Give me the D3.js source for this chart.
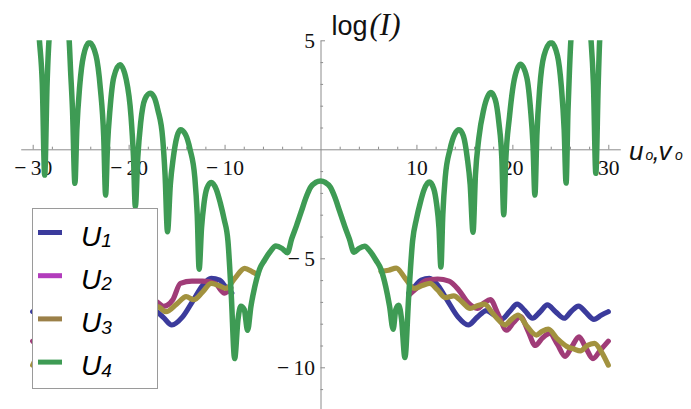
<!DOCTYPE html>
<html>
<head>
<meta charset="utf-8">
<script src="https://cdn.jsdelivr.net/npm/d3@7"></script>
<style>
  html, body { margin: 0; padding: 0; background: #fff; }
  svg { display: block; }
</style>
</head>
<body>
<svg id="chart" width="691" height="409"></svg>
<script>
// ---- tick labels ----
const xMajorTicks = [-30, -20, -10, 10, 20, 30];
const xMajorLabels = ["\u2212\u200930", "\u2212\u200920", "\u2212\u200910", "10", "20", "30"];
const yMajorTicks = [5, -5, -10];
const yMajorLabels = ["5", "\u2212\u20095", "\u2212\u200910"];

// ---- series: [u, log(I)] ----
const seriesNames = ["U1", "U2", "U3", "U4"];
const seriesSubs = ["1", "2", "3", "4"];
const lineColors = ["#3b3b9c", "#a03c78", "#a2923f", "#3e9b54"];
const legendColors = ["#3b3b9c", "#b23cbc", "#9b8048", "#3e9b54"];

// U4 (full curve, coincides with U1..U3 in the central lobe)
const u4 = [
  [-30, 8.2], [-29.6, 6.8], [-29.3, 5.0], [-29.0, 3.0], [-28.75, -1.18], [-28.5, 3.0], [-28.3, 5.0],
  [-27.9, 6.3], [-27.25, 7.2], [-26.6, 6.3], [-26.2, 5.0], [-26.05, 3.6], [-25.85, 1.8], [-25.6, -1.56],
  [-25.4, 0.9], [-25.1, 2.9], [-24.7, 4.3], [-24.1, 4.9], [-23.4, 4.3], [-22.95, 2.8], [-22.6, 0.6],
  [-22.4, -2.1], [-22.2, 0.2], [-21.95, 1.8], [-21.55, 3.3], [-20.9, 3.88], [-20.25, 3.2], [-19.75, 1.5],
  [-19.5, -0.3], [-19.3, -2.63], [-19.05, -0.4], [-18.75, 1.2], [-18.3, 2.3], [-17.75, 2.57], [-17.35, 2.4],
  [-16.95, 1.8], [-16.45, 0.5], [-16.2, -1.2], [-15.95, -3.78], [-15.65, -1.6], [-15.35, -0.4], [-14.95, 0.6],
  [-14.6, 0.9], [-14.1, 0.7], [-13.6, 0.0], [-13.1, -1.3], [-12.85, -3.0], [-12.65, -5.5], [-12.4, -3.6],
  [-12.15, -2.5], [-11.85, -1.8], [-11.4, -1.52], [-10.85, -1.85], [-10.45, -2.45], [-10.05, -3.2],
  [-9.65, -4.2], [-9.3, -6.7], [-8.95, -9.6], [-8.6, -7.8], [-8.3, -7.2], [-7.95, -7.35], [-7.6, -8.3],
  [-7.25, -7.2], [-6.85, -6.3], [-6.35, -5.5], [-5.85, -5.1], [-5.25, -4.7], [-4.65, -4.44], [-4.0, -4.55],
  [-3.45, -4.74], [-3.0, -4.1], [-2.5, -3.5], [-2.0, -2.85], [-1.5, -2.2], [-1.0, -1.72], [-0.5, -1.52],
  [0, -1.45], [0.5, -1.52], [1.0, -1.72], [1.5, -2.2], [2.0, -2.85], [2.5, -3.5], [3.0, -4.1], [3.5, -4.72],
  [4.0, -4.55], [4.6, -4.45], [5.2, -4.7], [5.8, -5.1], [6.3, -5.5], [6.8, -6.3], [7.2, -7.2], [7.57, -8.25],
  [7.85, -7.35], [8.15, -7.15], [8.45, -7.8], [8.8, -9.55], [9.2, -6.7], [9.6, -4.2], [10.0, -3.2],
  [10.4, -2.45], [10.8, -1.85], [11.35, -1.5], [11.8, -1.8], [12.1, -2.5], [12.35, -3.6], [12.55, -5.4],
  [12.75, -3.0], [13.0, -1.3], [13.5, 0.0], [14.0, 0.7], [14.45, 0.9], [14.9, 0.6], [15.3, -0.4],
  [15.6, -1.6], [15.9, -3.8], [16.15, -1.2], [16.5, 0.5], [17.0, 1.8], [17.4, 2.4], [17.75, 2.6],
  [18.2, 2.3], [18.6, 1.2], [18.9, -0.4], [19.1, -3.0], [19.3, -0.6], [19.7, 1.5], [20.2, 3.2],
  [20.85, 3.9], [21.5, 3.3], [21.9, 1.8], [22.15, 0.2], [22.35, -2.1], [22.55, 0.6], [22.85, 2.8],
  [23.3, 4.3], [24.05, 4.9], [24.7, 4.3], [25.1, 2.9], [25.4, 0.9], [25.6, -1.55], [25.8, 1.8],
  [25.95, 3.6], [26.1, 5.0], [26.5, 6.3], [27.2, 7.2], [27.8, 6.3], [28.2, 5.0], [28.45, 3.0],
  [28.7, -1.1], [28.95, 3.0], [29.1, 5.0], [29.5, 6.8], [30, 8.2]
];

// U1, U2, U3: outer wings (inner ends meet U4)
const u1Left = [
  [-30, -7.45], [-29.3, -7.6], [-28.5, -7.8], [-27.7, -7.5], [-26.9, -7.19], [-26.1, -7.45], [-25.4, -7.75],
  [-24.5, -7.45], [-23.65, -7.14], [-22.9, -7.45], [-22.1, -7.75], [-21.3, -7.4], [-20.5, -7.1],
  [-19.7, -7.45], [-18.9, -7.78], [-18.1, -7.6], [-17.35, -7.4], [-16.4, -7.7], [-15.5, -8.06],
  [-14.4, -7.7], [-13.3, -6.95], [-12.3, -6.25], [-11.4, -5.92], [-10.5, -6.0], [-9.85, -6.35], [-9.25, -6.6]
];
const u1Right = [
  [9.2, -6.6], [9.8, -6.3], [10.5, -6.0], [11.35, -5.92], [12.25, -6.25], [13.25, -6.95], [14.35, -7.7],
  [15.4, -8.06], [16.35, -7.7], [17.3, -7.4], [18.1, -7.6], [18.9, -7.78], [19.7, -7.45], [20.5, -7.1],
  [21.3, -7.4], [22.1, -7.75], [22.9, -7.45], [23.65, -7.14], [24.5, -7.45], [25.4, -7.75], [26.1, -7.45],
  [26.9, -7.19], [27.7, -7.5], [28.5, -7.8], [29.3, -7.6], [30, -7.45]
];
const u2Left = [
  [-30, -8.8], [-29.2, -9.2], [-28.4, -9.6], [-27.65, -9.1], [-26.95, -8.6], [-26.2, -9.05], [-25.5, -9.5],
  [-24.7, -8.95], [-23.9, -8.44], [-23.15, -8.65], [-22.4, -9.0], [-21.6, -8.3], [-20.85, -7.68],
  [-20.1, -7.95], [-19.4, -8.3], [-18.5, -7.55], [-17.7, -6.9], [-17.05, -7.0], [-16.35, -7.2],
  [-15.4, -6.9], [-14.6, -6.15], [-13.4, -6.05], [-12.3, -6.05], [-11.0, -6.15], [-10.0, -6.6], [-9.35, -6.35]
];
const u2Right = [
  [9.2, -6.7], [9.55, -6.55], [10.2, -6.3], [11.0, -6.02], [12.2, -5.95], [13.4, -6.05], [14.4, -6.45],
  [15.4, -7.05], [16.35, -7.3], [17.05, -7.05], [17.7, -6.9], [18.5, -7.55], [19.4, -8.3], [20.1, -7.95],
  [20.85, -7.68], [21.6, -8.3], [22.4, -9.0], [23.15, -8.65], [23.9, -8.44], [24.7, -8.95], [25.5, -9.5],
  [26.2, -9.05], [26.95, -8.6], [27.65, -9.1], [28.4, -9.6], [29.2, -9.2], [30, -8.8]
];
const u3Left = [
  [-30, -9.9], [-29.3, -9.3], [-28.55, -8.9], [-27.8, -9.0], [-27.1, -9.25], [-26.35, -9.15], [-25.7, -9.05],
  [-24.7, -8.7], [-23.75, -8.25], [-23.1, -8.35], [-22.5, -8.52], [-21.5, -8.1], [-20.6, -7.6],
  [-19.9, -7.8], [-19.25, -8.05], [-18.6, -7.85], [-17.9, -7.5], [-17.0, -7.22], [-16.1, -7.45],
  [-15.0, -7.1], [-14.0, -6.76], [-13.2, -6.9], [-12.3, -6.55], [-11.4, -6.15], [-10.6, -6.25],
  [-9.85, -6.38], [-8.9, -5.9], [-7.9, -5.46], [-7.1, -5.62], [-6.55, -5.75]
];
const u3Right = [
  [6.3, -5.6], [7.1, -5.55], [7.9, -5.45], [8.8, -5.9], [9.75, -6.38], [10.6, -6.25], [11.4, -6.15],
  [12.2, -6.45], [13.0, -6.8], [13.9, -6.72], [14.75, -7.0], [15.6, -7.3], [16.35, -7.18], [17.1, -7.1],
  [17.9, -7.5], [18.6, -7.85], [19.25, -8.05], [19.9, -7.8], [20.6, -7.6], [21.5, -8.1], [22.5, -8.52],
  [23.1, -8.35], [23.75, -8.25], [24.7, -8.7], [25.7, -9.05], [26.35, -9.15], [27.1, -9.25], [27.8, -9.0],
  [28.55, -8.9], [29.3, -9.3], [30, -9.9]
];

// ---- layout ----
const svg = d3.select("#chart");
const x = d3.scaleLinear().domain([-30, 30]).range([32.7, 608.3]);
const y = d3.scaleLinear().domain([5, -10]).range([40.3, 367.3]);
const axisColor = "#8c8c8c";
const serif = "'Liberation Serif', 'Times New Roman', serif";
const sans = "'Liberation Sans', Arial, sans-serif";

// ---- axes ----
const xAxisScale = d3.scaleLinear().domain([-31.25, 31.25]).range([x(-31.25), x(31.25)]);
const yAxisScale = d3.scaleLinear().domain([5, -11.95]).range([y(5), y(-11.95)]);
const xMinor = d3.range(-28, 30, 2).filter(v => v % 10 !== 0);
const yMinor = d3.range(-11, 5, 1).filter(v => v % 5 !== 0);

const gx = svg.append("g").attr("transform", `translate(0,${y(0)})`);
gx.call(d3.axisBottom(xAxisScale).tickValues(xMinor).tickSizeInner(-2.6).tickSizeOuter(0).tickFormat(""));
const gxMajor = svg.append("g").attr("transform", `translate(0,${y(0)})`);
gxMajor.call(d3.axisBottom(xAxisScale).tickValues(xMajorTicks).tickSizeInner(-4.5).tickSizeOuter(0)
  .tickPadding(10.5).tickFormat((d, i) => xMajorLabels[i]));
gxMajor.select(".domain").remove();

const gy = svg.append("g").attr("transform", `translate(${x(0)},0)`);
gy.call(d3.axisLeft(yAxisScale).tickValues(yMinor).tickSizeInner(-2.6).tickSizeOuter(0).tickFormat(""));
const gyMajor = svg.append("g").attr("transform", `translate(${x(0)},0)`);
gyMajor.call(d3.axisLeft(yAxisScale).tickValues(yMajorTicks).tickSizeInner(-4.5).tickSizeOuter(0)
  .tickPadding(5.5).tickFormat((d, i) => yMajorLabels[i]));
gyMajor.select(".domain").remove();

svg.selectAll(".domain").attr("stroke", axisColor).attr("stroke-width", 1);
svg.selectAll(".tick line").attr("stroke", axisColor).attr("stroke-width", 1);
svg.selectAll(".tick text").attr("fill", "#111").style("font-family", serif).style("font-size", "21.5px");

// axis titles
const yTitle = svg.append("text").attr("x", 331.5).attr("y", 35).attr("fill", "#111");
yTitle.append("tspan").style("font-family", sans).style("font-size", "27px").text("log");
yTitle.append("tspan").attr("x", 369.5).style("font-family", serif).style("font-style", "italic")
  .style("font-size", "31px").text("(I)");

const xTitle = svg.append("text").attr("y", 160).attr("fill", "#111")
  .style("font-family", sans).style("font-style", "italic");
xTitle.append("tspan").attr("x", 629).style("font-size", "26px").text("u");
xTitle.append("tspan").attr("x", 645.5).style("font-size", "14px").text("o");
xTitle.append("tspan").attr("x", 652.5).style("font-size", "26px").text(",");
xTitle.append("tspan").attr("x", 658.5).style("font-size", "26px").text("v");
xTitle.append("tspan").attr("x", 675).style("font-size", "14px").text("o");

// ---- curves ----
svg.append("clipPath").attr("id", "plotClip")
  .append("rect").attr("x", 0).attr("y", y(5)).attr("width", 691).attr("height", 409 - y(5));

const line = d3.line().x(d => x(d[0])).y(d => y(d[1])).curve(d3.curveMonotoneX);
const plot = svg.append("g").attr("clip-path", "url(#plotClip)");

const pieces = [
  { data: u1Left, s: 0 }, { data: u1Right, s: 0 },
  { data: u2Left, s: 1 }, { data: u2Right, s: 1 },
  { data: u3Left, s: 2 }, { data: u3Right, s: 2 },
  { data: u4, s: 3 }
];
plot.selectAll("path.curve").data(pieces).join("path")
  .attr("class", "curve")
  .attr("d", d => line(d.data))
  .attr("fill", "none")
  .attr("stroke", d => lineColors[d.s])
  .attr("stroke-width", d => d.s === 3 ? 5.5 : 5.2)
  .attr("stroke-linejoin", "round")
  .attr("stroke-linecap", "round");

// ---- legend ----
const legend = svg.append("g");
legend.append("rect").attr("x", 32.5).attr("y", 208.5).attr("width", 125).attr("height", 180)
  .attr("fill", "#fff").attr("stroke", "#9a9a9a").attr("stroke-width", 1);
const rows = legend.selectAll("g.row").data(seriesNames).join("g").attr("class", "row")
  .attr("transform", (d, i) => `translate(0,${245.5 + i * 43.2})`);
rows.append("line").attr("x1", 38).attr("x2", 62).attr("y1", -13).attr("y2", -13)
  .attr("stroke", (d, i) => legendColors[i]).attr("stroke-width", 5);
const lbl = rows.append("text").attr("x", 81).attr("y", 0).attr("fill", "#000")
  .style("font-family", sans).style("font-style", "italic");
lbl.append("tspan").style("font-size", "28px").text("U");
lbl.append("tspan").attr("dy", 1.6).style("font-size", "19px").text((d, i) => seriesSubs[i]);
</script>
</body>
</html>
